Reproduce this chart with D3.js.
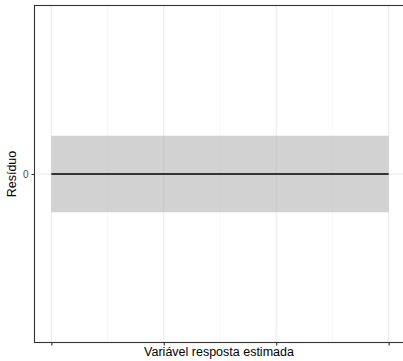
<!DOCTYPE html>
<html>
<head>
<meta charset="utf-8">
<script src="https://cdn.jsdelivr.net/npm/d3@7"></script>
<style>
  body { margin: 0; background: #fff; }
  svg { display: block; font-family: "Liberation Sans", Arial, sans-serif; }
</style>
</head>
<body>
<div id="chart"></div>
<script>
// valores
var xTicks = [0, 1, 2, 3];
var xMinor = [0.5, 1.5, 2.5];
var yTicks = [0];
var yLimits = [-1, 1];
var fitX = [0, 3];
var fitY = [0, 0];
var bandLow = [-0.25, -0.25];
var bandHigh = [0.25, 0.25];

var w = 403, h = 361;
var panel = { left: 34.5, top: 5.5, right: 405.5, bottom: 342.5 };

var svg = d3.select("#chart").append("svg")
  .attr("width", w)
  .attr("height", h);

var xr = fitX[1] - fitX[0];
var x = d3.scaleLinear()
  .domain([fitX[0] - 0.05 * xr, fitX[1] + 0.05 * xr])
  .range([panel.left, panel.right]);

var yr = yLimits[1] - yLimits[0];
var y = d3.scaleLinear()
  .domain([yLimits[0] - 0.05 * yr, yLimits[1] + 0.05 * yr])
  .range([panel.bottom, panel.top]);

var g = svg.append("g");

// grade secundária
g.selectAll(".minor").data(xMinor).enter().append("line")
  .attr("x1", d => x(d)).attr("x2", d => x(d))
  .attr("y1", panel.top).attr("y2", panel.bottom)
  .attr("stroke", "#f3f3f3").attr("stroke-width", 0.6);

// grade principal
g.selectAll(".vmajor").data(xTicks).enter().append("line")
  .attr("x1", d => x(d)).attr("x2", d => x(d))
  .attr("y1", panel.top).attr("y2", panel.bottom)
  .attr("stroke", "#ebebeb").attr("stroke-width", 1.1);

g.selectAll(".hmajor").data(yTicks).enter().append("line")
  .attr("x1", panel.left).attr("x2", panel.right)
  .attr("y1", d => y(d)).attr("y2", d => y(d))
  .attr("stroke", "#ebebeb").attr("stroke-width", 1.1);

// faixa
var band = fitX.map((v, i) => ({ x: v, lo: bandLow[i], hi: bandHigh[i] }));
g.append("path")
  .datum(band)
  .attr("d", d3.area().x(d => x(d.x)).y0(d => y(d.lo)).y1(d => y(d.hi)))
  .attr("fill", "#a6a6a6").attr("fill-opacity", 0.5);

// linha ajustada
var fit = fitX.map((v, i) => ({ x: v, y: fitY[i] }));
g.append("path")
  .datum(fit)
  .attr("d", d3.line().x(d => x(d.x)).y(d => y(d.y)))
  .attr("fill", "none").attr("stroke", "#000").attr("stroke-width", 1.4);

// borda do painel
g.append("rect")
  .attr("x", panel.left).attr("y", panel.top)
  .attr("width", panel.right - panel.left)
  .attr("height", panel.bottom - panel.top)
  .attr("fill", "none").attr("stroke", "#333333").attr("stroke-width", 1.1);

// eixos
var xAxis = svg.append("g")
  .attr("transform", "translate(0," + panel.bottom + ")")
  .call(d3.axisBottom(x).tickValues(xTicks).tickFormat("").tickSizeInner(3).tickSizeOuter(0));
xAxis.select(".domain").remove();
xAxis.selectAll("line").attr("stroke", "#333333").attr("stroke-width", 1.1);

var yAxis = svg.append("g")
  .attr("transform", "translate(" + panel.left + ",0)")
  .call(d3.axisLeft(y).tickValues(yTicks).tickFormat(d3.format("d")).tickSizeInner(3).tickSizeOuter(0).tickPadding(3));
yAxis.select(".domain").remove();
yAxis.selectAll("line").attr("stroke", "#333333").attr("stroke-width", 1.1);
yAxis.selectAll("text")
  .attr("fill", "#4d4d4d")
  .style("font-size", "10px")
  .style("font-family", "Liberation Sans, Arial, sans-serif");

// títulos
svg.append("text")
  .attr("x", (panel.left + panel.right) / 2 - 1)
  .attr("y", 356)
  .attr("text-anchor", "middle")
  .style("font-size", "12.5px")
  .attr("fill", "#000")
  .text("Variável resposta estimada");

svg.append("text")
  .attr("transform", "translate(15.5," + y(0) + ") rotate(-90)")
  .attr("text-anchor", "middle")
  .style("font-size", "12.5px")
  .attr("fill", "#000")
  .text("Resíduo");
</script>
</body>
</html>
